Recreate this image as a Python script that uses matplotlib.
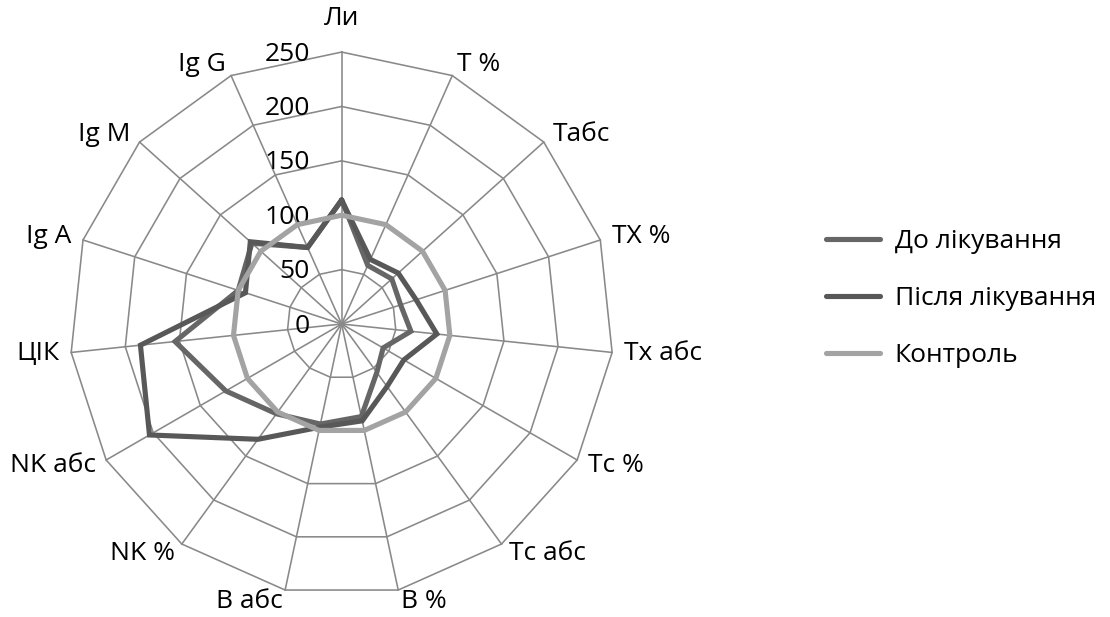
import numpy as np
import matplotlib.pyplot as plt

plt.rcParams['font.family'] = ['Open Sans', 'DejaVu Sans']

# показники імунограми, % від контролю
categories = ["Ли", "T %", "Табс", "TX %", "Tx абс", "Tc %", "Tc абс", "B %",
              "B абс", "NK %", "NK абс", "ЦІК", "Ig A", "Ig M", "Ig G"]
before = [114, 59, 62, 57, 64, 44, 55, 87, 94, 102, 123, 154, 100, 111, 77]
after = [114, 65, 70, 72, 88, 66, 71, 91, 97, 131, 204, 186, 93, 113, 77]
control = [100, 100, 100, 100, 100, 100, 100, 100, 100, 100, 100, 100, 100, 100, 100]
r_ticks = [0, 50, 100, 150, 200, 250]

GRID = "#898989"
FS = 19

n = len(categories)
theta = np.arange(n) * 2 * np.pi / n
theta_c = np.append(theta, theta[0])


def closed(vals):
    return list(vals) + [vals[0]]


fig = plt.figure(figsize=(11.1, 6.17), dpi=100)
ax = fig.add_axes([0.0628, 0.034, 0.490, 0.8817], projection="polar")
ax.set_theta_zero_location("N")
ax.set_theta_direction(-1)
ax.set_ylim(0, r_ticks[-1])
ax.axis("off")

# polygon grid + spokes
for v in r_ticks[1:]:
    ax.plot(theta_c, [v] * (n + 1), color=GRID, lw=1.15, clip_on=False, zorder=1)
for t in theta:
    ax.plot([t, t], [0, r_ticks[-1]], color=GRID, lw=1.15, clip_on=False, zorder=1)

series = [
    ("До лікування", before, "#666666"),
    ("Після лікування", after, "#585858"),
    ("Контроль", control, "#a3a3a3"),
]
handles = []
for i, (name, vals, col) in enumerate(series):
    ln, = ax.plot(theta_c, closed(vals), color=col, lw=3.7, label=name,
                  solid_joinstyle="miter", solid_capstyle="round",
                  clip_on=False, zorder=3 + i)
    handles.append(ln)

# radial tick labels left of the first spoke
for v in r_ticks:
    ax.annotate(str(v), xy=(0, v), xytext=(-32, -2), textcoords="offset pixels",
                ha="right", va="center", fontsize=FS, color="black",
                annotation_clip=False)

# category labels
for t, lab in zip(theta, categories):
    s, c = np.sin(t), np.cos(t)
    if abs(s) < 0.1:
        ha = "center"
    else:
        ha = "left" if s > 0 else "right"
    pad = 31 if c > 0.99 else 11
    ax.text(t, r_ticks[-1] + pad, lab, ha=ha, va="center", fontsize=FS)

leg = fig.legend(handles=handles, loc="upper left",
                 bbox_to_anchor=(826 / 1110, 1 - 229 / 617),
                 frameon=False, fontsize=FS, handlelength=2.05,
                 handletextpad=0.55, labelspacing=1.22,
                 borderpad=0, borderaxespad=0)

fig.savefig("out.png", dpi=100)
